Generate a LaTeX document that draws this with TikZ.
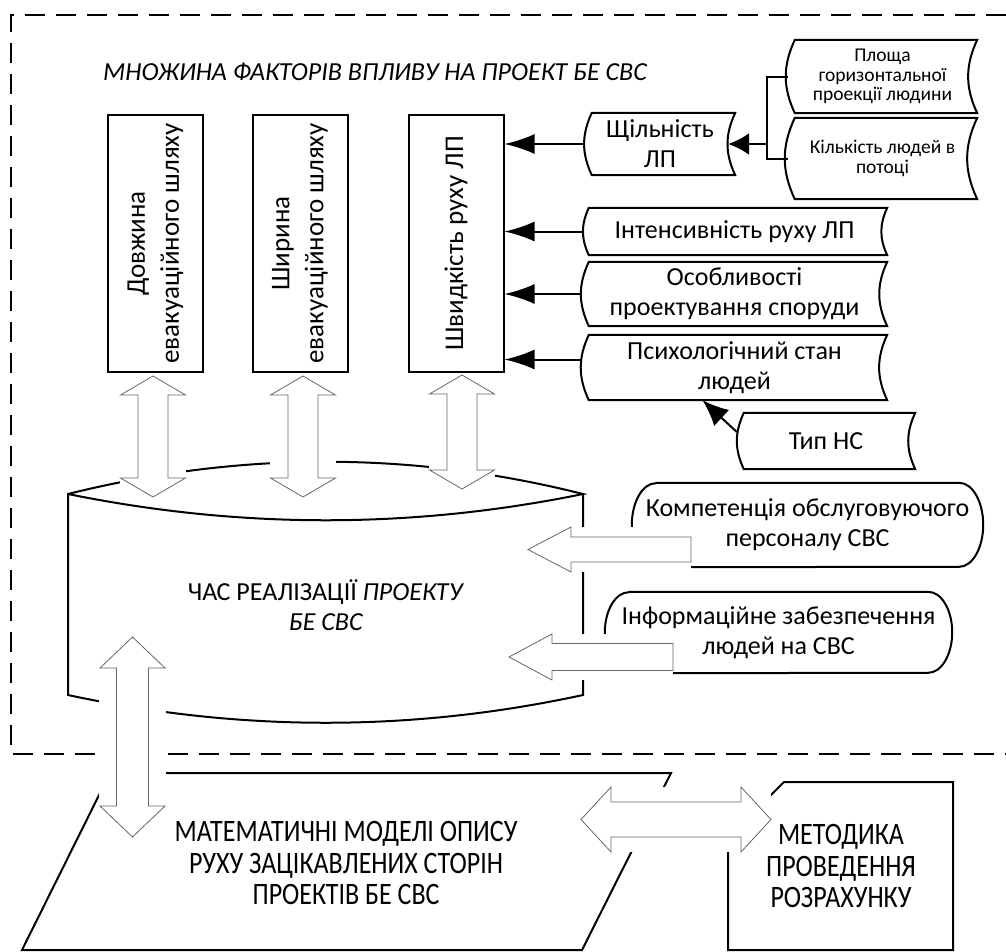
\documentclass[tikz,border=0pt]{standalone}
\usepackage{fontspec}
\setmainfont{Carlito}
\usetikzlibrary{arrows.meta}

\tikzset{
  txt/.style={font=\fontsize{26}{30}\selectfont, align=center, inner sep=0pt},
  small/.style={font=\fontsize{19.5}{19.5}\selectfont},
  tall/.style={font=\fontsize{26}{26}\selectfont, yscale=1.2},
  vbox/.style={txt, font=\fontsize{27}{34}\selectfont, draw, line width=2pt, rotate=90, minimum width=257pt, minimum height=95pt},
  outline/.style={line width=2pt},
  conn/.style={outline, -{Latex[length=30pt,width=20pt]}},
  hollow/.style={draw=black!60, line width=0.8pt, fill=white}
}

\begin{document}
\begin{tikzpicture}[x=1pt, y=-1pt]
\useasboundingbox (0,0) rectangle (1006,951);

% frame of the factors
\draw[line width=2.2pt, dash pattern=on 20pt off 11pt] (1006,15) -- (11,15) -- (11,754) -- (1006,754);
\node[txt, font=\fontsize{26}{30}\selectfont\itshape, anchor=base west] (title) at (103,80) {МНОЖИНА ФАКТОРІВ ВПЛИВУ НА ПРОЕКТ БЕ СВС};

% vertical boxes
\node[vbox] (len) at (155.5,243.5) {Довжина\\евакуаційного шляху};
\node[vbox] (wid) at (300,243.5) {Ширина\\евакуаційного шляху};
\node[vbox] (spd) at (456,243.5) {Швидкість руху ЛП};

% factors of the speed
\node[txt, minimum width=150pt, minimum height=62pt] (dens) at (660,144) {Щільність\\ЛП};
\node[txt, small, minimum width=189pt, minimum height=73pt] (area) at (882.5,76.5) {Площа\\горизонтальної\\проекції людини};
\node[txt, small, minimum width=189pt, minimum height=81pt] (count) at (882.5,158.5) {Кількість людей в\\потоці};
\node[txt, minimum width=305pt, minimum height=47pt] (inten) at (734.5,231.5) {Інтенсивність руху ЛП};
\node[txt, minimum width=305pt, minimum height=64pt] (feat) at (734.5,294) {Особливості\\проектування споруди};
\node[txt, minimum width=305pt, minimum height=65pt] (psych) at (734.5,367.5) {Психологічний стан\\людей};
\node[txt, minimum width=178pt, minimum height=56pt] (kind) at (826,441) {Тип НС};
\foreach \n in {dens,area,count,inten,feat,psych,kind}
  \draw[outline] ([xshift=7pt]\n.north west) to[bend right=25] ([xshift=7pt]\n.south west)
    -- (\n.south east) to[bend left=25] (\n.north east) -- cycle;

\coordinate (jn) at (767,144);
\draw[outline] (area.west) -| (jn) |- (count.west);
\draw[outline, -{Latex[length=21pt,width=22pt]}] (jn) -- ([xshift=-7pt]dens.east);
\draw[conn] (dens.west) -- (dens.west -| spd.south);
\draw[conn] (inten.west) -- (inten.west -| spd.south);
\draw[conn] (feat.west) -- (feat.west -| spd.south);
\draw[conn] ([yshift=8pt]psych.west) -- ([yshift=8pt]psych.west -| spd.south);
\draw[outline, -{Latex[length=26pt,width=22pt]}] ([yshift=9pt]kind.west) -- ([xshift=-32pt]psych.south);

% time of the project
\draw[outline] (68,494) .. controls (240,451) and (412,451) .. (583,494)
  .. controls (412,529) and (240,529) .. (68,494) -- (68,695)
  .. controls (240,732) and (412,732) .. (583,695) -- (583,494);
\node[txt] (time) at (326,605) {ЧАС РЕАЛІЗАЦІЇ \textit{ПРОЕКТУ}\\\textit{БЕ СВС}};

\node[txt, minimum width=351pt, minimum height=84pt] (comp) at (807.5,525) {Компетенція обслуговуючого\\персоналу СВС};
\node[txt, minimum width=347pt, minimum height=81pt] (info) at (778.5,632.5) {Інформаційне забезпечення\\людей на СВС};
\foreach \n/\r in {comp/42pt,info/40.5pt}
  \draw[outline] ([xshift=24pt]\n.north west) -- ([xshift=-24pt]\n.north east)
    arc[start angle=90, end angle=-90, x radius=24pt, y radius=\r]
    -- ([xshift=24pt]\n.south west)
    arc[start angle=270, end angle=90, x radius=24pt, y radius=\r];

% models and method
\draw[outline] (110,773) -- (671,773) -- (582,950) -- (22,950) -- cycle;
\node[txt, tall] (model) at (346,863) {МАТЕМАТИЧНІ МОДЕЛІ ОПИСУ\\РУХУ ЗАЦІКАВЛЕНИХ СТОРІН\\ПРОЕКТІВ БЕ СВС};
\draw[outline] (784,782) -- (953,782) -- (953,950) -- (728,950) -- (728,838) -- cycle;
\node[txt, tall] (method) at (841,866) {МЕТОДИКА\\ПРОВЕДЕННЯ\\РОЗРАХУНКУ};

% hollow arrows, each on a white patch
\foreach \x/\t/\b in {153/376/497, 303/376/497, 462/375/489} {
  \fill[white] (\x-33,\t) rectangle (\x+33,\b);
  \draw[hollow] (\x,\t) -- (\x+32.5,\t+19) -- (\x+15,\t+19) -- (\x+15,\b-19) -- (\x+32.5,\b-19)
    -- (\x,\b) -- (\x-32.5,\b-19) -- (\x-15,\b-19) -- (\x-15,\t+19) -- (\x-32.5,\t+19) -- cycle;
}
\fill[white] (99,637) rectangle (166,837);
\draw[hollow] (132.5,637) -- (165,668) -- (148.5,668) -- (148.5,806) -- (165,806) -- (132.5,837)
  -- (100,806) -- (116.5,806) -- (116.5,668) -- (100,668) -- cycle;
\fill[white] (581,787) rectangle (771,852);
\draw[hollow] (581,819.5) -- (611,787) -- (611,802) -- (741,802) -- (741,787) -- (771,819.5)
  -- (741,852) -- (741,837) -- (611,837) -- (611,852) -- cycle;
\foreach \p/\q/\y/\h/\s in {528/691/549.5/22.5/12.5, 509/673/657/23/13.5} {
  \fill[white] (\p,\y-\h) rectangle (\q,\y+\h);
  \draw[hollow] (\p,\y) -- (\p+43,\y-\h) -- (\p+43,\y-\s) -- (\q,\y-\s) -- (\q,\y+\s)
    -- (\p+43,\y+\s) -- (\p+43,\y+\h) -- cycle;
}
\end{tikzpicture}
\end{document}
